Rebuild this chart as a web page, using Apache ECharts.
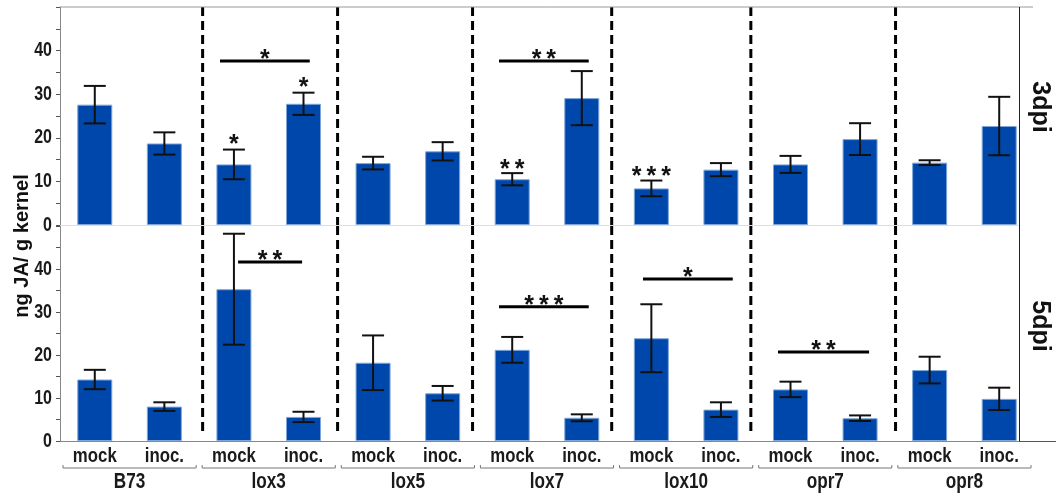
<!DOCTYPE html>
<html>
<head>
<meta charset="utf-8">
<script src="https://cdn.jsdelivr.net/npm/echarts@6/dist/echarts.min.js"></script>
<style>
  html, body { margin: 0; padding: 0; background: #fff; }
  #chart { width: 1056px; height: 497px; }
</style>
</head>
<body>
<div id="chart"></div>
<script>
// bar labels and gene groups
const categories = ['mock', 'inoc.', 'mock', 'inoc.', 'mock', 'inoc.', 'mock', 'inoc.', 'mock', 'inoc.', 'mock', 'inoc.', 'mock', 'inoc.'];
const groups = ['B73', 'lox3', 'lox5', 'lox7', 'lox10', 'opr7', 'opr8'];

// ng JA / g kernel
const dpi3Values = [27.6, 18.7, 13.9, 27.8, 14.2, 16.9, 10.5, 29.1, 8.4, 12.7, 13.9, 19.7, 14.3, 22.7];
const dpi3Errors = [4.3, 2.55, 3.4, 2.55, 1.45, 2.1, 1.4, 6.2, 1.8, 1.5, 1.95, 3.65, 0.55, 6.7];
const dpi5Values = [14.3, 8.0, 35.3, 5.6, 18.2, 11.1, 21.2, 5.4, 23.9, 7.3, 12.0, 5.3, 16.5, 9.8];
const dpi5Errors = [2.25, 1.0, 12.9, 1.2, 6.35, 1.7, 3.0, 0.8, 7.9, 1.7, 1.8, 0.65, 3.1, 2.6];

const yTicks = [0, 10, 20, 30, 40];

// significance bars: [panel, from, to, value, label]
const sigLines = [
    [0, 1.80, 3.09, 37.6, '*'],
    [0, 5.81, 7.10, 37.6, '**'],
    [1, 2.06, 2.98, 41.6, '**'],
    [1, 5.81, 7.10, 31.2, '***'],
    [1, 7.88, 9.17, 37.7, '*'],
    [1, 9.82, 11.13, 20.7, '**']
];
// single marks: [panel, category, value, label]
const sigStars = [
    [0, 2, 19.9, '*'],
    [0, 3, 33.0, '*'],
    [0, 6, 14.2, '**'],
    [0, 8, 12.6, '***']
];
// dashed separators between genotypes (category units)
const separators = [1.55, 3.49, 5.43, 7.43, 9.43, 11.51];

const plain = "'Liberation Sans', Arial, sans-serif";
const barColor = '#0047ab';
const textColor = '#1a1a1a';

function catX(api, x) {
    let i = Math.floor(x);
    let band = api.size([1, 0])[0];
    return api.coord([i, 0])[0] + (x - i) * band;
}

// condensed bold text, the way the figure prints it
function narrowText(x, y, text, size, scale, align) {
    return {
        type: 'text', x: x, y: y, scaleX: scale,
        style: { text: text, x: 0, y: 0, align: align || 'center', verticalAlign: 'middle', font: 'bold ' + size + 'px ' + plain, fill: textColor }
    };
}

function stars(label) {
    return label.split('').join('\u2009');
}

function errorSeries(idx, values, errors) {
    return {
        type: 'custom',
        xAxisIndex: idx, yAxisIndex: idx,
        z: 5,
        data: values.map((v, i) => [i, v, errors[i]]),
        renderItem: function (params, api) {
            let x = api.coord([api.value(0), 0])[0];
            let hi = api.coord([api.value(0), api.value(1) + api.value(2)])[1];
            let lo = api.coord([api.value(0), api.value(1) - api.value(2)])[1];
            let st = { stroke: '#111', lineWidth: 2 };
            return {
                type: 'group',
                children: [
                    { type: 'line', shape: { x1: x, y1: hi, x2: x, y2: lo }, style: st },
                    { type: 'line', shape: { x1: x - 11, y1: hi, x2: x + 11, y2: hi }, style: st },
                    { type: 'line', shape: { x1: x - 11, y1: lo, x2: x + 11, y2: lo }, style: st }
                ]
            };
        }
    };
}

function separatorSeries(idx, bottomValue) {
    return {
        type: 'custom',
        xAxisIndex: idx, yAxisIndex: idx,
        z: 4,
        data: separators.map(s => [s]),
        renderItem: function (params, api) {
            let x = catX(api, api.value(0));
            return {
                type: 'line',
                shape: { x1: x, y1: api.coord([0, 50])[1], x2: x, y2: api.coord([0, bottomValue])[1] },
                style: { stroke: '#000', lineWidth: 3, lineDash: [9, 5] }
            };
        }
    };
}

function sigSeries(idx) {
    let lines = sigLines.filter(d => d[0] == idx);
    let marks = sigStars.filter(d => d[0] == idx);
    let data = lines.map(d => [d[1], d[2], d[3], d[4], 'line']).concat(marks.map(d => [d[1], d[1], d[2], d[3], 'star']));
    return {
        type: 'custom',
        xAxisIndex: idx, yAxisIndex: idx,
        z: 6,
        data: data,
        renderItem: function (params, api) {
            let d = data[params.dataIndex];
            let y = api.coord([0, d[2]])[1];
            let font = 'bold 25px ' + plain;
            if (d[4] == 'line') {
                let x1 = catX(api, d[0]), x2 = catX(api, d[1]);
                return {
                    type: 'group',
                    children: [
                        { type: 'line', shape: { x1: x1, y1: y, x2: x2, y2: y }, style: { stroke: '#000', lineWidth: 3 } },
                        { type: 'text', style: { text: stars(d[3]), x: (x1 + x2) / 2, y: y - 1, align: 'center', verticalAlign: 'middle', font: font, fill: '#111' } }
                    ]
                };
            }
            let x = api.coord([d[0], 0])[0];
            return { type: 'text', style: { text: stars(d[3]), x: x, y: y + 7, align: 'center', verticalAlign: 'middle', font: font, fill: '#111' } };
        }
    };
}

function bracketSeries() {
    return {
        type: 'custom',
        xAxisIndex: 1, yAxisIndex: 1,
        z: 3,
        data: groups.map((g, i) => [i]),
        renderItem: function (params, api) {
            let g = api.value(0);
            let band = api.size([1, 0])[0];
            let left = api.coord([2 * g, 0])[0] - band / 2 + 3;
            let right = api.coord([2 * g + 1, 0])[0] + band / 2 - 3;
            let base = api.coord([0, 0])[1];
            let y = base + 27;
            return {
                type: 'group',
                children: [
                    { type: 'polyline', shape: { points: [[left, y - 3], [left, y], [right, y], [right, y - 3]] }, style: { stroke: '#777', lineWidth: 1, fill: null } },
                    narrowText((left + right) / 2, base + 41, groups[g], 22, 0.78)
                ]
            };
        }
    };
}

function xLabelSeries() {
    return {
        type: 'custom',
        xAxisIndex: 1, yAxisIndex: 1,
        z: 3,
        data: categories.map((c, i) => [i]),
        renderItem: function (params, api) {
            let i = api.value(0);
            let p = api.coord([i, 0]);
            return narrowText(p[0], p[1] + 15, categories[i], 21, 0.8);
        }
    };
}

function yLabelSeries(idx) {
    return {
        type: 'custom',
        xAxisIndex: idx, yAxisIndex: idx,
        z: 3,
        data: yTicks.map(v => [0, v]),
        renderItem: function (params, api) {
            let y = api.coord([0, api.value(1)])[1];
            return narrowText(params.coordSys.x - 8, y, String(api.value(1)), 20, 0.8, 'right');
        }
    };
}

function yAxis(idx) {
    return {
        type: 'value', gridIndex: idx, min: 0, max: 50, interval: 10,
        axisLine: { show: true, lineStyle: { color: '#888', width: 1 } },
        axisTick: { show: true, length: 4, lineStyle: { color: '#555' } },
        minorTick: { show: true, splitNumber: 2, length: 4, lineStyle: { color: '#555' } },
        splitLine: { show: false },
        axisLabel: { show: false }
    };
}

let chart = echarts.init(document.getElementById('chart'));

let option = {
    animation: false,
    backgroundColor: '#fff',
    grid: [
        { left: 60, top: 7, width: 974, height: 218 },
        { left: 60, top: 226, width: 974, height: 215 }
    ],
    xAxis: [
        {
            type: 'category', gridIndex: 0, data: categories,
            axisLine: { lineStyle: { color: '#dedede' } }, axisTick: { show: false }, axisLabel: { show: false }
        },
        {
            type: 'category', gridIndex: 1, data: categories, position: 'bottom',
            axisLine: { lineStyle: { color: '#888' } }, axisTick: { show: false }, axisLabel: { show: false }
        }
    ],
    yAxis: [yAxis(0), yAxis(1)],
    series: [
        {
            type: 'bar', xAxisIndex: 0, yAxisIndex: 0, data: dpi3Values, barWidth: 35,
            itemStyle: { color: barColor, borderColor: '#7ea6d8', borderWidth: 1 }
        },
        {
            type: 'bar', xAxisIndex: 1, yAxisIndex: 1, data: dpi5Values, barWidth: 35,
            itemStyle: { color: barColor, borderColor: '#7ea6d8', borderWidth: 1 }
        },
        errorSeries(0, dpi3Values, dpi3Errors),
        errorSeries(1, dpi5Values, dpi5Errors),
        separatorSeries(0, 0),
        separatorSeries(1, 1.4),
        sigSeries(0),
        sigSeries(1),
        bracketSeries(),
        xLabelSeries(),
        yLabelSeries(0),
        yLabelSeries(1)
    ],
    graphic: [
        // strip on the right with panel names
        { type: 'rect', z: 100, shape: { x: 1019, y: 0, width: 37, height: 441 }, style: { fill: '#fff' } },
        { type: 'line', z: 101, shape: { x1: 60, y1: 7, x2: 1033, y2: 7 }, style: { stroke: '#999', lineWidth: 1 } },
        { type: 'line', z: 101, shape: { x1: 1019.5, y1: 7, x2: 1019.5, y2: 441 }, style: { stroke: '#222', lineWidth: 1 } },
        { type: 'line', z: 101, shape: { x1: 1019, y1: 441.5, x2: 1056, y2: 441.5 }, style: { stroke: '#555', lineWidth: 1 } },
        {
            type: 'text', z: 102, x: 1040, y: 107, rotation: -Math.PI / 2,
            style: { text: '3dpi', align: 'center', verticalAlign: 'middle', font: 'bold 25px ' + plain, fill: '#111' }
        },
        {
            type: 'text', z: 102, x: 1040, y: 326, rotation: -Math.PI / 2,
            style: { text: '5dpi', align: 'center', verticalAlign: 'middle', font: 'bold 25px ' + plain, fill: '#111' }
        },
        {
            type: 'text', z: 102, x: 22, y: 246, rotation: Math.PI / 2,
            style: { text: 'ng JA/ g kernel', align: 'center', verticalAlign: 'middle', font: 'bold 20px ' + plain, fill: '#111' }
        }
    ]
};

chart.setOption(option);
</script>
</body>
</html>
